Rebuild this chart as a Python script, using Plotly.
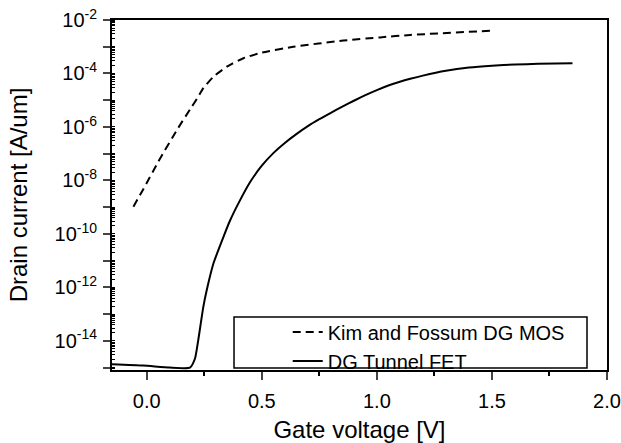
import plotly.graph_objects as go

# Kim and Fossum DG MOS (dashed)
kim_v = [-0.058, -0.015, 0.05, 0.137, 0.196, 0.217, 0.246, 0.29, 0.348, 0.37, 0.42, 0.5, 0.637, 0.855, 1.014, 1.145, 1.5]
kim_logi = [-8.98, -8.33, -7.3, -6.03, -5.24, -4.96, -4.55, -4.12, -3.745, -3.64, -3.43, -3.22, -3.0, -2.77, -2.65, -2.56, -2.4]

# DG Tunnel FET (solid)
tfet_v = [-0.152, -0.015, 0.10, 0.188, 0.21, 0.224, 0.246, 0.261, 0.29, 0.333, 0.362, 0.40, 0.45, 0.50, 0.55,
          0.60, 0.65, 0.70, 0.75, 0.80, 0.85, 0.90, 0.95, 1.0, 1.05, 1.10, 1.145, 1.2, 1.3, 1.4, 1.5, 1.6, 1.7, 1.85]
tfet_logi = [-14.87, -14.92, -15.0, -15.0, -14.65, -13.96, -12.72, -12.09, -11.1, -10.12, -9.5, -8.83, -8.05, -7.45, -6.98,
             -6.6, -6.27, -5.97, -5.71, -5.47, -5.24, -5.02, -4.81, -4.62, -4.45, -4.31, -4.2, -4.08, -3.9, -3.78, -3.71, -3.665, -3.64, -3.62]

kim_i = [10 ** v for v in kim_logi]
tfet_i = [10 ** v for v in tfet_logi]

y_exps = list(range(-15, -1))
y_tickvals = [10.0 ** e for e in y_exps]
y_ticktext = [f"10<sup>{e}</sup>" if e % 2 == 0 else "" for e in y_exps]

x_tickvals = [0.0, 0.5, 1.0, 1.5, 2.0]
x_ticktext = ["0.0", "0.5", "1.0", "1.5", "2.0"]

FONT = "Liberation Sans, Arial, sans-serif"

fig = go.Figure()
fig.add_trace(go.Scatter(x=kim_v, y=kim_i, mode="lines", name="Kim and Fossum DG MOS",
                         line=dict(color="black", width=2, dash="8px,5px", shape="spline", smoothing=0.5)))
fig.add_trace(go.Scatter(x=tfet_v, y=tfet_i, mode="lines", name="DG Tunnel FET",
                         line=dict(color="black", width=2, shape="spline", smoothing=0.5)))

XR = [-0.151, 2.0]
YR = [-15.09, -2.0]

fig.update_layout(
    width=621, height=443,
    margin=dict(l=112, r=14, t=20, b=73, autoexpand=False),
    paper_bgcolor="white", plot_bgcolor="white",
    font=dict(family=FONT, size=20, color="black"),
    showlegend=True,
    legend=dict(x=0.355, y=-0.03, xanchor="left", yanchor="bottom",
                bgcolor="rgba(0,0,0,0)", borderwidth=0,
                font=dict(size=20)),
    xaxis=dict(range=XR, tickmode="array", tickvals=x_tickvals, ticktext=x_ticktext,
               ticks="outside", ticklen=8, tickwidth=1.5, linecolor="black", linewidth=2,
               mirror=True, showgrid=False, zeroline=False, automargin=False,
               ticklabelstandoff=4,
               minor=dict(ticks="outside", ticklen=4, dtick=0.25, tick0=0, tickcolor="black"),
               title=dict(text="Gate voltage [V]", standoff=13)),
    yaxis=dict(type="log", range=YR, tickmode="array", tickvals=y_tickvals, ticktext=y_ticktext,
               ticks="outside", ticklen=7, tickwidth=1.5, linecolor="black", linewidth=2,
               mirror=True, showgrid=False, zeroline=False, automargin=False,
               ticklabelstandoff=2,
               minor=dict(ticks="inside", ticklen=3, dtick="D1", tickcolor="black", tickwidth=0.8),
               title=dict(text="Drain current [A/um]", standoff=20)),
    xaxis2=dict(range=XR, overlaying="x", side="top", anchor="y", tickmode="array",
                tickvals=[0.0, 0.25, 0.5, 0.75, 1.0, 1.25, 1.5, 1.75],
                ticks="inside", ticklen=3, showticklabels=False, showgrid=False, zeroline=False,
                showline=False, automargin=False),
    yaxis2=dict(type="log", range=YR, overlaying="y", side="right", anchor="x",
                ticks="inside", ticklen=3, showticklabels=False, showgrid=False, zeroline=False,
                showline=False, tickmode="array", tickvals=y_tickvals, automargin=False,
                minor=dict(ticks="inside", ticklen=2, dtick="D1", tickcolor="black", tickwidth=0.8)),
)

# legend frame
fig.add_shape(type="rect", xref="paper", yref="paper",
              x0=0.2465, x1=0.9596, y0=0.006, y1=0.1514,
              line=dict(color="black", width=1.5), fillcolor="rgba(0,0,0,0)", layer="above")

fig.write_html("out.html", config={"displayModeBar": False},
               post_script="document.body.style.margin='0';document.body.style.padding='0';")
